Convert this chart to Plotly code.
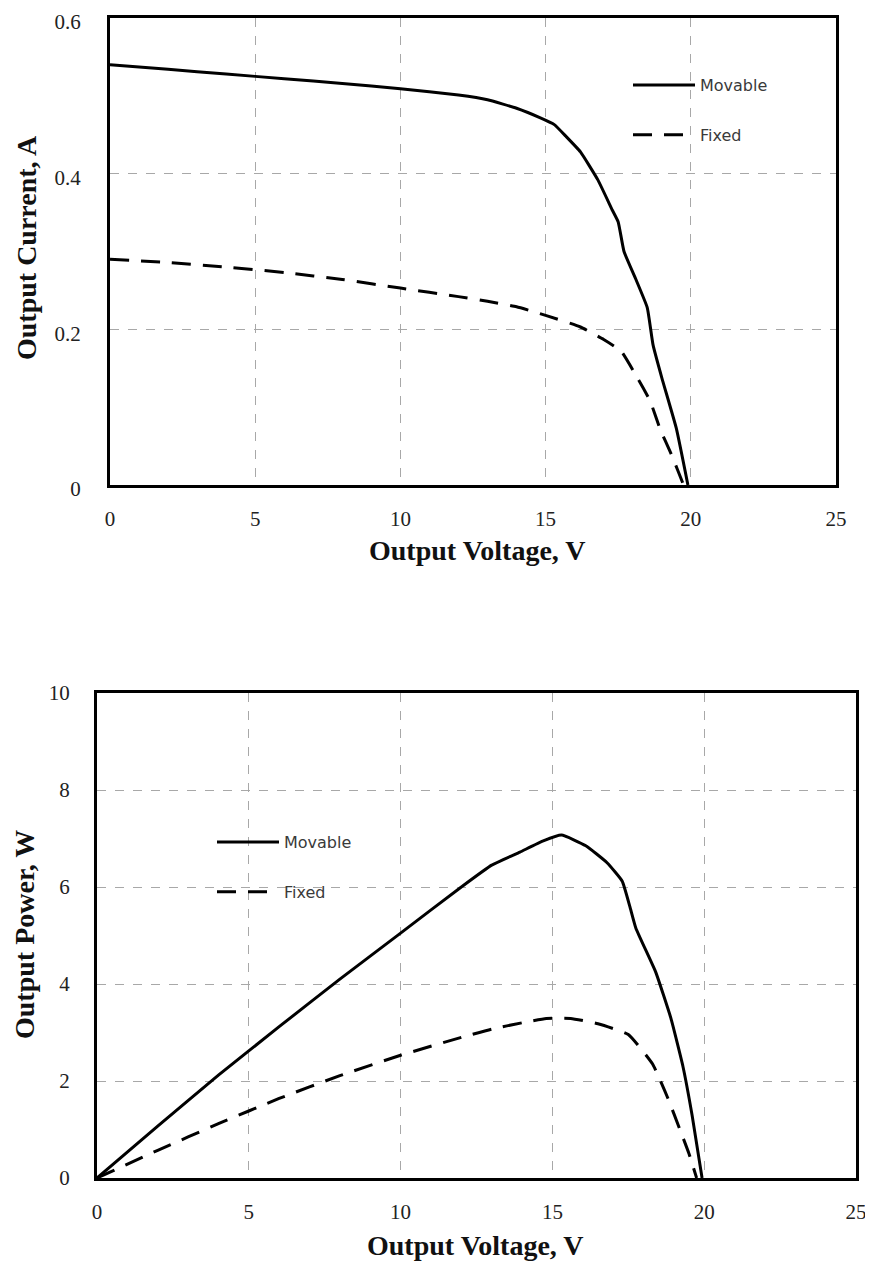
import plotly.graph_objects as go

# page body has an 8px margin; size the figure so it fits the 873x1264 window
OFF = 8
W, H = 873 - OFF, 1264 - OFF

# ---- data: I-V curves ----
iv_mov_v = [0, 2, 4, 6, 8, 10, 12, 13, 14, 14.8, 15.3, 15.7, 16.2, 16.8, 17.3, 17.5, 17.7, 18.1, 18.5, 18.7, 19.0, 19.5, 19.9]
iv_mov_i = [0.540, 0.534, 0.528, 0.522, 0.516, 0.509, 0.501, 0.495, 0.484, 0.472, 0.463, 0.448, 0.428, 0.392, 0.353, 0.338, 0.300, 0.265, 0.228, 0.180, 0.138, 0.073, 0.0]
iv_fix_v = [0, 2, 4, 6, 8, 10, 12, 13, 14, 15, 16.2, 17, 17.6, 18.2, 18.6, 18.95, 19.3, 19.55, 19.75]
iv_fix_i = [0.290, 0.286, 0.280, 0.273, 0.264, 0.253, 0.242, 0.236, 0.229, 0.218, 0.203, 0.187, 0.172, 0.135, 0.108, 0.071, 0.042, 0.019, 0.0]

# ---- data: P-V curves ----
pv_mov_v = [0, 2, 4, 6, 8, 10, 12, 13, 13.93, 14.7, 15.3, 16.1, 16.8, 17.3, 17.55, 17.75, 18.4, 18.9, 19.3, 19.6, 19.93]
pv_mov_p = [0, 1.07, 2.12, 3.12, 4.1, 5.05, 6.0, 6.45, 6.72, 6.95, 7.07, 6.85, 6.5, 6.12, 5.6, 5.15, 4.25, 3.3, 2.3, 1.3, 0]
pv_fix_v = [0, 2, 4, 6, 8, 10, 12, 13, 14, 14.8, 15.6, 16.5, 17.5, 18.3, 18.8, 19.2, 19.5, 19.75]
pv_fix_p = [0, 0.57, 1.12, 1.64, 2.11, 2.53, 2.9, 3.07, 3.2, 3.29, 3.29, 3.18, 2.96, 2.35, 1.65, 1.0, 0.5, 0]

x_ticks = [0, 5, 10, 15, 20, 25]
iv_y_ticks = [0, 0.2, 0.4, 0.6]
iv_y_labels = ["0", "0.2", "0.4", "0.6"]
pv_y_ticks = [0, 2, 4, 6, 8, 10]

x_title = "Output Voltage, V"
iv_y_title = "Output Current, A"
pv_y_title = "Output Power, W"
names = ["Movable", "Fixed"]

def px_x(p):
    return (p - OFF) / W

def px_y(p):
    return 1 - (p - OFF) / H

fig = go.Figure()

solid = dict(color="black", width=3, shape="spline", smoothing=0.4)
dashed = dict(color="black", width=3, dash="19px,12px", shape="spline", smoothing=0.4)

fig.add_trace(go.Scatter(x=iv_mov_v, y=iv_mov_i, mode="lines", name=names[0], line=solid,
                         xaxis="x", yaxis="y", legend="legend", legendgroup="a"))
fig.add_trace(go.Scatter(x=iv_fix_v, y=iv_fix_i, mode="lines", name=names[1], line=dashed,
                         xaxis="x", yaxis="y", legend="legend", legendgroup="b"))
fig.add_trace(go.Scatter(x=pv_mov_v, y=pv_mov_p, mode="lines", name=names[0], line=solid,
                         xaxis="x2", yaxis="y2", legend="legend2", legendgroup="c"))
fig.add_trace(go.Scatter(x=pv_fix_v, y=pv_fix_p, mode="lines", name=names[1], line=dashed,
                         xaxis="x2", yaxis="y2", legend="legend2", legendgroup="d"))

tickfont = dict(family="Liberation Serif", size=21, color="#222")
axis_common = dict(showline=True, linewidth=3, linecolor="black", mirror=True,
                   showgrid=True, gridcolor="#a8a8a8", gridwidth=1, griddash="dash",
                   zeroline=False, ticks="", tickfont=tickfont, automargin=False,
                   ticklabeloverflow="allow")

legend_font = dict(family="DejaVu Sans", size=16, color="#3a3a3a")

fig.update_layout(
    width=W, height=H,
    margin=dict(l=0, r=0, t=0, b=0),
    paper_bgcolor="white", plot_bgcolor="white",
    showlegend=True,
    xaxis=dict(domain=[px_x(110), px_x(836)], range=[0, 25], tickvals=x_ticks, anchor="y",
               ticklabelstandoff=13, **axis_common),
    yaxis=dict(domain=[px_y(485), px_y(18)], range=[0, 0.6], tickvals=iv_y_ticks, ticktext=iv_y_labels,
               anchor="x", ticklabelstandoff=22, ticklabelshift=4, **axis_common),
    xaxis2=dict(domain=[px_x(97), px_x(856)], range=[0, 25], tickvals=x_ticks, anchor="y2",
                ticklabelstandoff=13, **axis_common),
    yaxis2=dict(domain=[px_y(1178), px_y(693)], range=[0, 10], tickvals=pv_y_ticks, anchor="x2",
                ticklabelstandoff=20, **axis_common),
    legend=dict(x=px_x(628), y=px_y(68), xanchor="left", yanchor="top", bgcolor="rgba(0,0,0,0)",
                font=legend_font, itemwidth=62, tracegroupgap=26),
    legend2=dict(x=px_x(212), y=px_y(825), xanchor="left", yanchor="top", bgcolor="rgba(0,0,0,0)",
                 font=legend_font, itemwidth=62, tracegroupgap=26),
)

title_font = dict(family="Liberation Serif", size=28, color="#111")
fig.add_annotation(text="<b>%s</b>" % x_title, x=px_x(477), y=px_y(550), xref="paper", yref="paper",
                   showarrow=False, font=title_font, xanchor="center", yanchor="middle")
fig.add_annotation(text="<b>%s</b>" % x_title, x=px_x(476), y=px_y(1245), xref="paper", yref="paper",
                   showarrow=False, font=title_font, xanchor="center", yanchor="middle")
fig.add_annotation(text="<b>%s</b>" % iv_y_title, x=px_x(27), y=px_y(248), xref="paper", yref="paper",
                   showarrow=False, font=title_font, textangle=-90, xanchor="center", yanchor="middle")
fig.add_annotation(text="<b>%s</b>" % pv_y_title, x=px_x(24), y=px_y(935), xref="paper", yref="paper",
                   showarrow=False, font=title_font, textangle=-90, xanchor="center", yanchor="middle")

fig.write_html("out.html")
